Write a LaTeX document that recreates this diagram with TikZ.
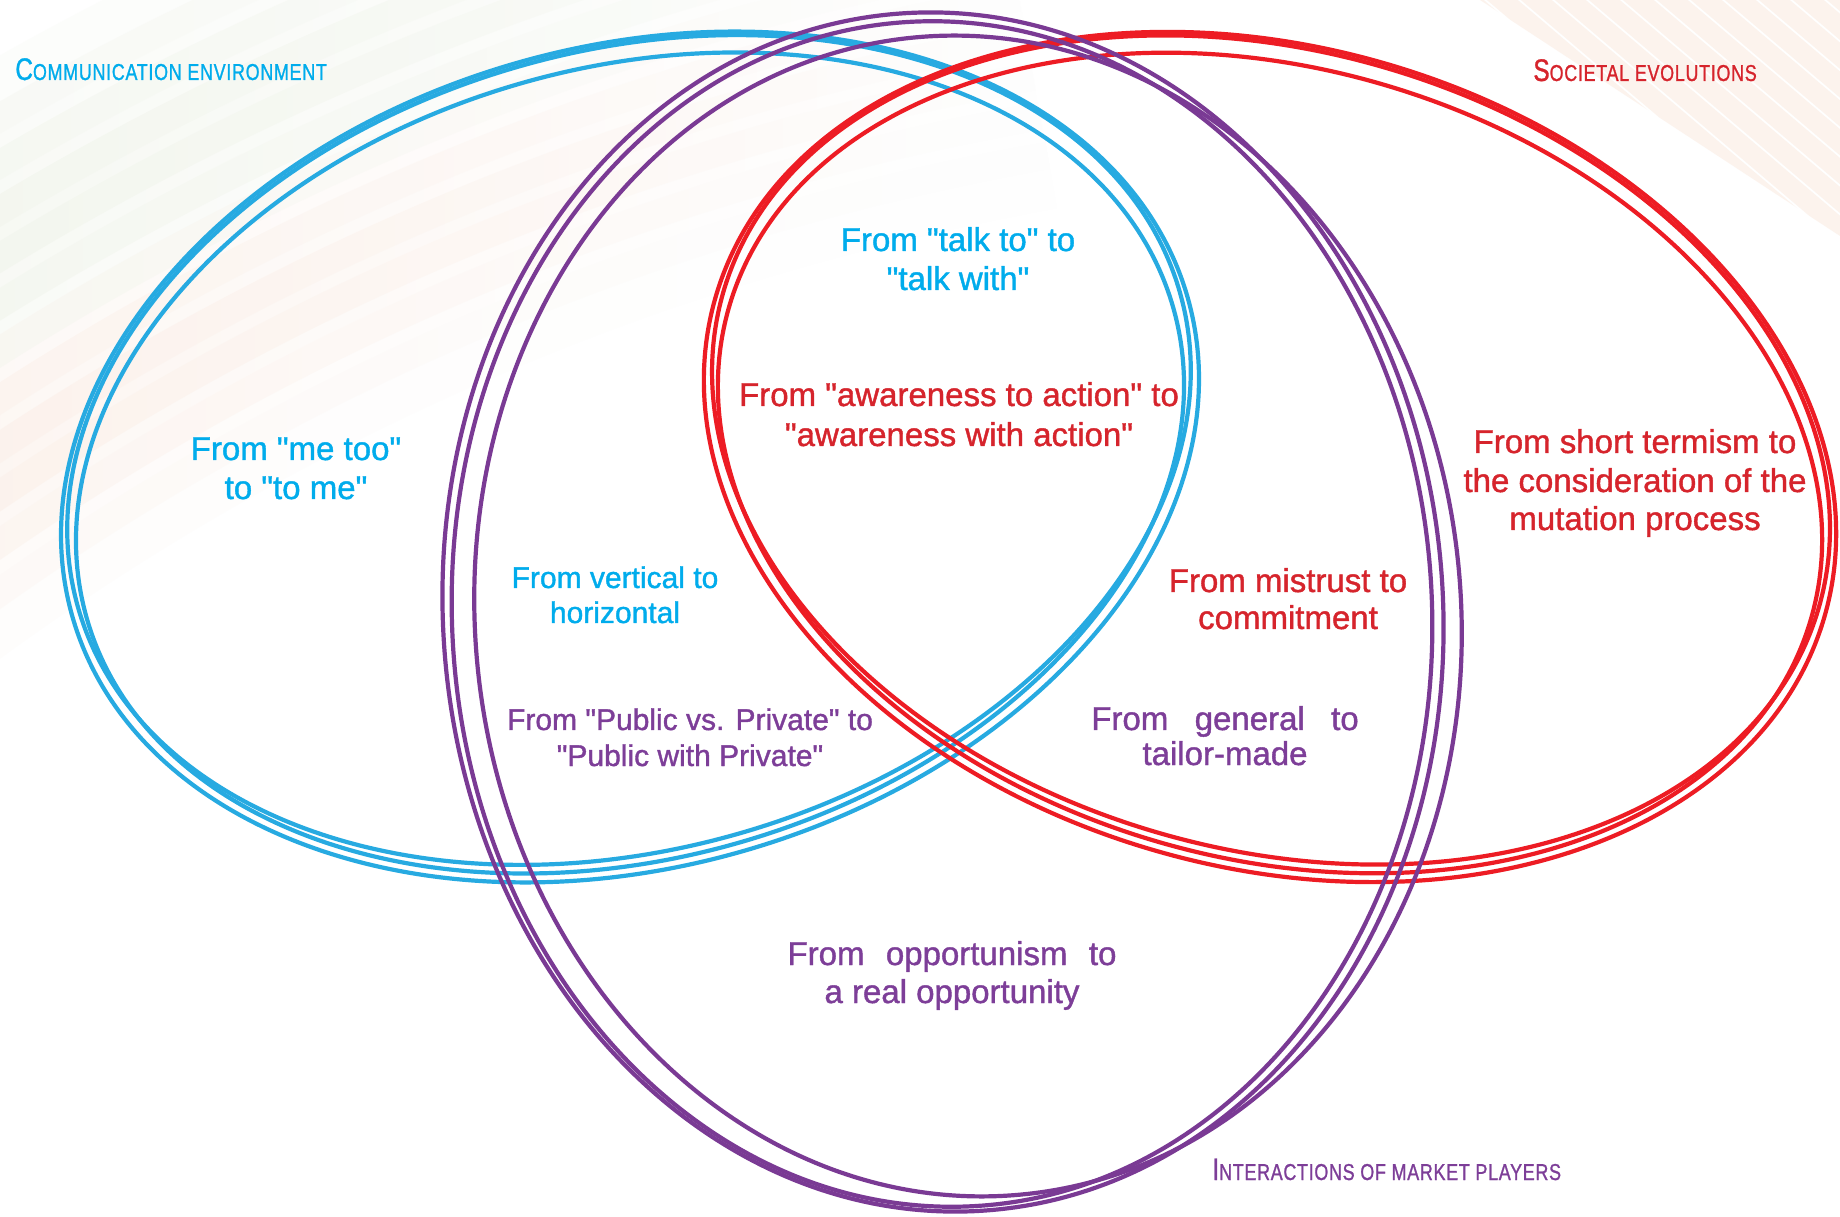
\documentclass[tikz,border=0pt]{standalone}
\usepackage{fontspec}
\usetikzlibrary{fadings}
\setmainfont{Liberation Sans}
\newfontfamily\bodyfont[FakeBold=1.2]{Liberation Sans}
\newfontfamily\headfont[FakeStretch=0.78,LetterSpace=3,FakeBold=1]{Liberation Sans}
\definecolor{cblue}{RGB}{0,172,236}
\definecolor{lblue}{RGB}{39,170,225}
\definecolor{cred}{RGB}{214,36,44}
\definecolor{lred}{RGB}{237,28,36}
\definecolor{cpur}{RGB}{125,62,152}
\definecolor{lpur}{RGB}{122,58,148}
\definecolor{bggreen}{RGB}{240,244,234}
\definecolor{bgpeach}{RGB}{251,238,230}
\tikzset{
  bluering/.style={draw=lblue, line width=2.1pt},
  redring/.style={draw=lred, line width=2.1pt},
  purring/.style={draw=lpur, line width=2.1pt},
  lab/.style={font=\bodyfont\fontsize{16.5}{19.5}\selectfont, anchor=base, inner sep=0pt},
  smalllab/.style={font=\bodyfont\fontsize{15}{17.5}\selectfont, anchor=base, inner sep=0pt},
  head/.style={font=\headfont, anchor=base west, inner sep=0pt},
  bgband/.style={line width=34},
  bgstripe/.style={draw=bgpeach, line width=10},
}
\newcommand{\bigC}[1]{{\fontsize{15.6}{16}\selectfont #1}}
\newcommand{\smC}[1]{{\fontsize{11.5}{12}\selectfont #1}}
\begin{document}
\begin{tikzpicture}[x=0.5pt,y=0.5pt]
\useasboundingbox (0,0) rectangle (1840,1216);
\fill[white] (0,0) rectangle (1840,1216);
% faint background bands (upper left), fading to the right
\begin{scope}
  \clip (0,0) rectangle (1840,1216);
  \coordinate (halo) at (1500,-1500);
  \foreach \r/\c/\o in {2580/bgpeach/0.12, 2620/bgpeach/0.25, 2660/bgpeach/0.45, 2700/bgpeach/0.6, 2740/bgpeach/0.5, 2780/bgpeach/0.4, 2820/bggreen/0.45, 2860/bggreen/0.6, 2900/bggreen/0.7, 2940/bggreen/0.55, 2980/bggreen/0.4, 3020/bggreen/0.25}
    \draw[bgband, draw=\c, draw opacity=\o, path fading=east] ([shift={(100:\r)}]halo) arc [start angle=100, end angle=128, radius=\r];
\end{scope}
% faint stripes (upper right)
\begin{scope}
  \clip (1480,1216) -- (1840,1216) -- (1840,980) -- cycle;
  \foreach \i in {0,...,12}
    \draw[bgstripe, draw opacity=0.7] (1440+\i*34,1240) -- ++(330,-280);
\end{scope}
% blue rings
\draw[bluering] (630,759) circle [x radius=580, y radius=410, rotate=16];
\draw[bluering] (629,766) circle [x radius=573, y radius=399, rotate=16];
\draw[bluering] (630,753) circle [x radius=565, y radius=395, rotate=16];
% red rings
\draw[redring] (1270,759) circle [x radius=577, y radius=410, rotate=-16];
\draw[redring] (1271,766) circle [x radius=570, y radius=399, rotate=-16];
\draw[redring] (1270,753) circle [x radius=563, y radius=395, rotate=-16];
% purple rings
\draw[purring] (943,604) circle [x radius=500, y radius=600, rotate=4];
\draw[purring] (942,602) circle [x radius=490, y radius=593, rotate=3];
\draw[purring] (968,600) circle [x radius=493, y radius=581, rotate=5];
% headings
\node[head, text=cblue] (comm) at (15,1136) {\bigC{C}\smC{OMMUNICATION ENVIRONMENT}};
\node[head, text=cred] (soc) at (1533,1135) {\bigC{S}\smC{OCIETAL EVOLUTIONS}};
\node[head, text=cpur] (inter) at (1212,36) {\bigC{I}\smC{NTERACTIONS OF MARKET PLAYERS}};
% labels
\node[lab, text=cblue] (metooA) at (296,756) {From "me too"};
\node[lab, text=cblue] (metooB) at (296,717) {to "to me"};
\node[lab, text=cblue] (talkA) at (958,965) {From "talk to" to};
\node[lab, text=cblue] (talkB) at (958,926) {"talk with"};
\node[lab, text=cred] (awareA) at (959,810) {From "awareness to action" to};
\node[lab, text=cred] (awareB) at (959,770) {"awareness with action"};
\node[lab, text=cred] (shortA) at (1635,763) {From short termism to};
\node[lab, text=cred] (shortB) at (1635,724) {the consideration of the};
\node[lab, text=cred] (shortC) at (1635,686) {mutation process};
\node[smalllab, text=cblue] (vertA) at (615,628) {From vertical to};
\node[smalllab, text=cblue] (vertB) at (615,593) {horizontal};
\node[lab, text=cred] (misA) at (1288,624) {From mistrust to};
\node[lab, text=cred] (misB) at (1288,587) {commitment};
\node[smalllab, text=cpur] (pubA) at (690,486) {From "Public vs. Private" to};
\node[smalllab, text=cpur] (pubB) at (690,450) {"Public with Private"};
\node[lab, text=cpur] (genA) at (1225,486) {From\hspace{0.8em}general\hspace{0.8em}to};
\node[lab, text=cpur] (genB) at (1225,451) {tailor-made};
\node[lab, text=cpur] (oppA) at (952,251) {From\hspace{0.65em}opportunism\hspace{0.65em}to};
\node[lab, text=cpur] (oppB) at (952,213) {a real opportunity};
\end{tikzpicture}
\end{document}
